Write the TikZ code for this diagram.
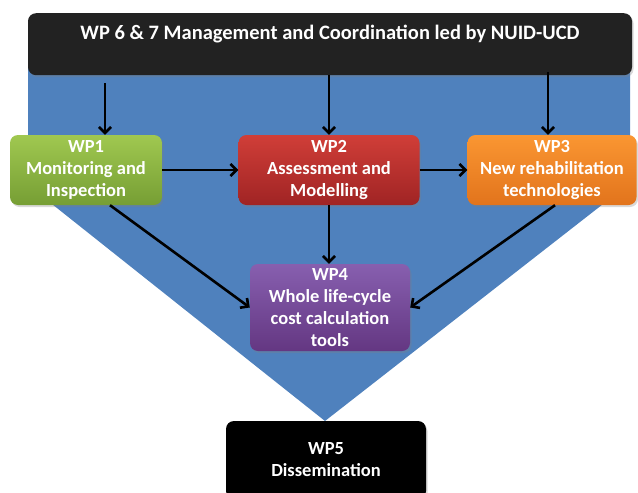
\documentclass[tikz,border=0pt]{standalone}
\usepackage{fontspec}
\setmainfont{Carlito}
\usetikzlibrary{arrows.meta,shadows}
\definecolor{bgblue}{RGB}{79,129,189}
\definecolor{gtop}{RGB}{160,200,80}
\definecolor{gbot}{RGB}{118,158,52}
\definecolor{rtop}{RGB}{208,62,56}
\definecolor{rbot}{RGB}{160,36,36}
\definecolor{otop}{RGB}{250,150,50}
\definecolor{obot}{RGB}{226,116,28}
\definecolor{ptop}{RGB}{135,95,175}
\definecolor{pbot}{RGB}{100,55,130}
\definecolor{topblack}{RGB}{34,34,34}
\begin{document}
\begin{tikzpicture}[x=1pt,y=-1pt,
  wpbox/.style={rounded corners=8pt, align=center, text=white,
    font=\fontsize{18.5}{22}\selectfont\bfseries, inner sep=0pt,
    drop shadow={opacity=0.3,shadow xshift=1.5pt,shadow yshift=-2pt}},
  conn/.style={line width=2.6pt, -{Straight Barb[length=6pt,width=12pt,line width=2.6pt]}}]
\useasboundingbox (0,0) rectangle (638,493);
% blue background chevron
\fill[bgblue] (28,40) -- (630,40) -- (630,183) -- (325,421) -- (28,185) -- cycle;
% top management box
\node[wpbox, fill=topblack, anchor=north, minimum width=604pt,
  text height=15pt, text depth=25pt, inner ysep=11pt,
  font=\fontsize{20.5}{24}\selectfont\bfseries] (top) at (330,13)
  {WP 6 \& 7 Management and Coordination led by NUID-UCD};
% work package boxes
\node[wpbox, top color=gtop, bottom color=gbot, minimum width=152pt, minimum height=70pt] (wp1) at (86,170)
  {WP1\\Monitoring and\\Inspection};
\node[wpbox, top color=rtop, bottom color=rbot, minimum width=181pt, minimum height=70pt] (wp2) at (329,170)
  {WP2\\Assessment and\\Modelling};
\node[wpbox, top color=otop, bottom color=obot, minimum width=169pt, minimum height=70pt] (wp3) at (552,170)
  {WP3\\New rehabilitation\\technologies};
\node[wpbox, top color=ptop, bottom color=pbot, minimum width=160pt, minimum height=87pt] (wp4) at (330,307.5)
  {WP4\\Whole life-cycle\\cost calculation\\tools};
\node[wpbox, fill=black, minimum width=200pt, minimum height=78pt] (wp5) at (326,460)
  {WP5\\Dissemination};
% connectors
\coordinate (c1) at (105,83);
\coordinate (c3) at (548,72);
\draw[conn] (c1) -- (c1 |- wp1.north);
\draw[conn] (top.south -| wp2.north) -- (wp2.north);
\draw[conn] (c3) -- (c3 |- wp3.north);
\draw[conn] (wp1.east) -- (wp2.west);
\draw[conn] (wp2.east) -- (wp3.west);
\draw[conn] (wp2.south) -- (wp2.south |- wp4.north);
\draw[conn] ([xshift=24pt]wp1.south) -- (wp4.west);
\draw[conn] ([xshift=3pt]wp3.south) -- (wp4.east);
\end{tikzpicture}
\end{document}
